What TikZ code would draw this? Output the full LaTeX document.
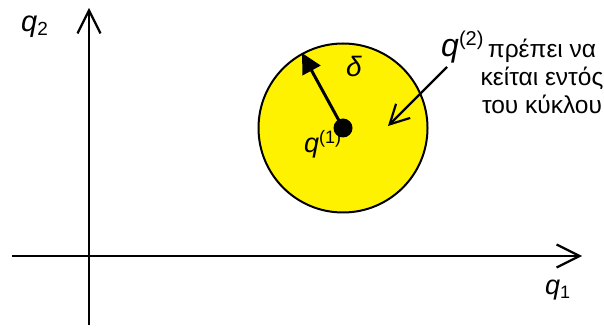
\documentclass[tikz,border=0pt]{standalone}
\usepackage{fontspec}
\setmainfont{Liberation Sans}
\usetikzlibrary{arrows.meta}

\begin{document}
\begin{tikzpicture}[x=1pt,y=1pt,
axis/.style={line width=2.2pt,-{Straight Barb[length=23pt,width=23pt]}},
pointer/.style={line width=2.2pt,-{Straight Barb[length=19pt,width=20pt]}},
radiusarrow/.style={line width=3pt,-{Triangle[length=20pt,width=20pt]}},
lbl/.style={inner sep=0pt,anchor=base west},
greek/.style={inner sep=0pt,align=center,font=\fontsize{24.5}{28}\selectfont}]
\useasboundingbox (0,0) rectangle (604,329);
% axes
\coordinate (xstart) at (12,73);
\coordinate (xend) at (582,73);
\coordinate (ystart) at (89,4);
\coordinate (yend) at (89,321);
\draw[axis] (xstart) -- (xend);
\draw[axis] (ystart) -- (yend);
\node[lbl,font=\fontsize{29}{29}\selectfont] (q2axis) at (21,297)
  {\textit{q}\raisebox{-4pt}{\fontsize{19}{19}\selectfont 2}};
\node[lbl,font=\fontsize{27}{27}\selectfont] (q1axis) at (545,35)
  {\textit{q}\raisebox{-4pt}{\fontsize{18}{18}\selectfont 1}};
% region round q(1)
\node[draw,line width=2pt,fill=yellow,circle,minimum size=169pt,inner sep=0pt] (region) at (343,201) {};
\node[circle,fill=black,minimum size=19pt,inner sep=0pt] (qone) at (region.center) {};
\coordinate (rim) at (302,276);
\draw[radiusarrow] (qone.center) -- (rim);
\node[lbl,font=\fontsize{28}{28}\selectfont] (delta) at (346,252) {\textit{δ}};
\node[lbl,font=\fontsize{27}{27}\selectfont] (qonelbl) at (304,176)
  {\textit{q}\raisebox{9pt}{\fontsize{18}{18}\selectfont (1)}};
% q(2) note
\node[greek,anchor=base] (note) at (542,215) {πρέπει να\\κείται εντός\\του κύκλου};
\node[lbl,font=\fontsize{32}{32}\selectfont] (qtwo) at (441,272)
  {\textit{q}\raisebox{11pt}{\fontsize{20}{20}\selectfont (2)}};
\coordinate (tail) at (447,262);
\coordinate (inside) at (388,203);
\draw[pointer] (tail) -- (inside);
\end{tikzpicture}
\end{document}
